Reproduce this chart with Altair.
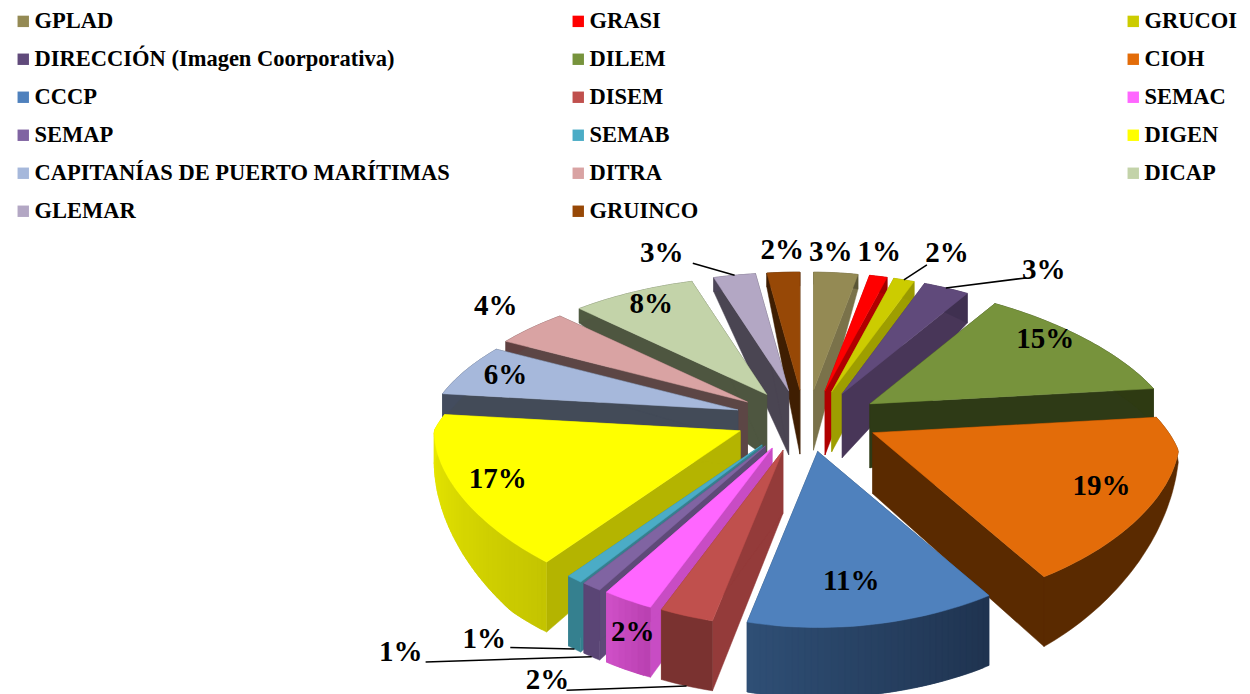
import math
import altair as alt

names = ["GPLAD","GRASI","GRUCOI","DIRECCIÓN (Imagen Coorporativa)","DILEM","CIOH","CCCP","DISEM","SEMAC","SEMAP","SEMAB","DIGEN","CAPITANÍAS DE PUERTO MARÍTIMAS","DITRA","DICAP","GLEMAR","GRUINCO"]
# slice sizes as measured on the picture, and the printed percentages
values = [3.6,1.4,1.6,3.3,13.4,17.6,12.8,2.8,2.6,1.0,0.8,15.9,5.7,4.3,8.0,2.9,2.3]
printed = [3,1,2,3,15,19,11,2,2,1,1,17,6,4,8,3,2]
tops = ["#948A54","#FF0000","#CCCC00","#604A7B","#77933C","#E36C09","#4F81BD","#C0504D","#FF66FF","#8064A2","#4BACC6","#FFFF00","#A6B8DB","#D9A3A3","#C3D3A9","#B3A7C4","#974806"]
walls = ["#7A724A","#B00000","#9E9E00","#483658","#2E3A16","#5A2A00","#2A4668","#943B3A","#C84CC4","#5E4A78","#35808F","#B4B400","#434B58","#5C4645","#4E5640","#4A4552","#3F1E02"]
rim_a = ["#5A5535","#A00000","#9A9A00","#3F3050","#2E3A12","#5A2A00","#1F3350","#7A3230","#B840B0","#5A4575","#35808F","#C4C400","#434C5E","#5F4040","#4F5A40","#4C4558","#3F1E02"]
rim_b = ["#5A5535","#A00000","#9A9A00","#3F3050","#2E3A12","#5A2A00","#2F4F75","#7A3230","#D050C8","#5A4575","#35808F","#ECEC00","#434C5E","#5F4040","#4F5A40","#4C4558","#3F1E02"]
apex_depth = [60,64,60,64,64,61,64,63,62,62,62,34,30,64,63,64,64]
# label placement relative to the slice: radial fraction, then a small shift
label_place = [(1,-5,-21),(1,1,-24),(1,43,-27),(1,98,-18),(.7,27,-18),(.7,32,5),(.7,-4,8),(.7,-168,114),(1.3,48,-14),(1.3,-139,23),(1.3,-34,20),(.7,-44,7),(.7,-42,-7),(1.2,7,-7),(.7,-23,-19),(1.2,-62,1),(1,-1,-22)]
# slices with a leader line: where it ends next to the label, and whether it starts on the rim's foot
leader_end = {2:(-20,12,0),3:(-18,8,0),7:(19,10,1),9:(25,10,1),10:(26,8,1),15:(31,10,0)}

OFF = 8

def pt(t, f=1.0):
    v = -math.cos(t)
    if math.sin(t) >= 0:
        sx = 296 + 100 * v if v < 0.12 else 308 + 12 * (v - 0.12)
    else:
        sx = 306 * (1 + 0.25 * v if v < 0 else 1)
    return sx * math.sin(t) * f, (147 * v + 29 * v * v) * f

def depth(t):
    v = -math.cos(t)
    if math.sin(t) >= 0:
        if v >= 0:
            return min(83 * v, 70)
        return 35 if v > -0.6 else 64 - 52 * v * v
    if v >= 0:
        return min(30 + 47 * v / 0.78, 70)
    return 14 + 16 * max(0, (v + 0.7) / 0.7)

def shift(p):
    return [round(p[0] - OFF, 1), round(p[1] - OFF, 1)]

def mix(c1, c2, k):
    a = [int(c1[j:j + 2], 16) for j in (1, 3, 5)]
    b = [int(c2[j:j + 2], 16) for j in (1, 3, 5)]
    return "#%02X%02X%02X" % tuple(round(x + (y - x) * k) for x, y in zip(a, b))

total = sum(values)
slices = []
cum = 0
for i, val in enumerate(values):
    t0 = cum / total * 2 * math.pi
    cum += val
    t1 = cum / total * 2 * math.pi
    m = (t0 + t1) / 2
    apex = (805 + (75 if math.sin(m) > 0 else 70) * math.sin(m),
            418 - (28 if math.cos(m) > 0 else 34) * math.cos(m))
    n = max(6, int(val * 3))
    arc, ts = [], []
    for k in range(n + 1):
        t = t0 + (t1 - t0) * k / n
        dx, dy = pt(t)
        arc.append((apex[0] + dx, apex[1] + dy))
        ts.append(t)
    slices.append(dict(i=i, m=m, apex=apex, arc=arc, ts=ts))

def feat(coords, fill):
    return {"type": "Feature", "fill": fill,
            "geometry": {"type": "Polygon", "coordinates": [[shift(p) for p in coords + coords[:1]]]}}

features = []
for s in sorted(slices, key=lambda s: -math.cos(s["m"])):
    i, a, arc, ts = s["i"], s["apex"], s["arc"], s["ts"]
    ad = apex_depth[i]
    for e, t in ((arc[0], ts[0]), (arc[-1], ts[-1])):
        features.append(feat([a, e, (e[0], e[1] + depth(t)), (a[0], a[1] + ad)], walls[i]))
    n = len(arc) - 1
    foot = [(p[0], p[1] + depth(t)) for p, t in zip(arc, ts)]
    if rim_a[i] == rim_b[i]:
        features.append(feat(arc + foot[::-1], rim_a[i]))
    else:
        # each step of the shaded rim overlaps the next, so no seam shows
        for k in range(n):
            j = min(k + 2, n)
            features.append(feat(arc[k:j + 1] + foot[k:j + 1][::-1], mix(rim_a[i], rim_b[i], (k + .5) / n)))
    features.append(feat([a] + arc, tops[i]))

labels, leaders = [], []
for s in slices:
    i = s["i"]
    f, dx, dy = label_place[i]
    px, py = pt(s["m"], f)
    lx, ly = s["apex"][0] + px + dx, s["apex"][1] + py + dy
    labels.append({"x": lx - OFF, "y": ly - OFF, "t": f"{printed[i]}%"})
    if i in leader_end:
        ex, ey, foot_on = leader_end[i]
        ox, oy = pt(s["m"])
        sx, sy = s["apex"][0] + ox, s["apex"][1] + oy + foot_on * depth(s["m"])
        leaders.append({"type": "Feature", "geometry": {"type": "LineString", "coordinates": [
            shift((sx, sy)), shift((lx + ex, ly + ey))]}})

proj = dict(type="identity", scale=1, translate=[0, 0])
FONT = "Liberation Serif"

shapes = alt.Chart(alt.Data(values=features)).mark_geoshape(strokeWidth=0.5).encode(
    fill=alt.Fill("fill:N", scale=None), stroke=alt.Stroke("fill:N", scale=None)).project(**proj)
lines = alt.Chart(alt.Data(values=leaders)).mark_geoshape(filled=False, stroke="black", strokeWidth=1.5).project(**proj)
text = alt.Chart(alt.Data(values=labels)).mark_text(font=FONT, fontWeight="bold", fontSize=29, color="black").encode(
    x=alt.X("x:Q", scale=None, axis=None), y=alt.Y("y:Q", scale=None, axis=None), text="t:N")
legend_src = alt.Chart(alt.Data(values=[{"n": n} for n in names])).mark_square(opacity=0, size=1).encode(
    x=alt.value(0), y=alt.value(0),
    color=alt.Color("n:N", scale=alt.Scale(domain=names, range=tops), sort=names,
        legend=alt.Legend(orient="none", legendX=4, legendY=2, columns=3, direction="horizontal", title=None, symbolType="square", symbolSize=130,
            symbolOpacity=1, symbolStrokeWidth=0, labelFont=FONT, labelFontWeight="bold", labelFontSize=22.5, labelColor="black", labelLimit=0,
            labelOffset=0, columnPadding=117, rowPadding=15, gridAlign="all", symbolLimit=0)))

chart = alt.layer(shapes, lines, text, legend_src).properties(width=1234, height=686, padding=0, background="white", autosize=alt.AutoSizeParams(type="none")).configure_view(stroke=None)
chart.save("out.html", embed_options={"renderer": "svg", "actions": False})
